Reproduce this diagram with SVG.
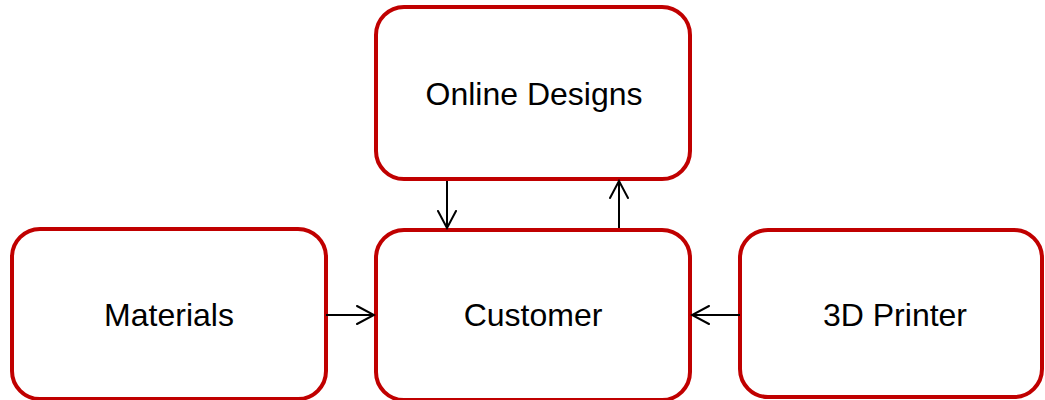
<svg xmlns="http://www.w3.org/2000/svg" width="1045" height="400" viewBox="0 0 1045 400">
  <style>
    .box { fill: #ffffff; stroke: #c00000; stroke-width: 4; }
    .label { font-family: "Liberation Sans", Arial, sans-serif; font-size: 32px; fill: #000000; text-anchor: middle; }
    .link { stroke: #000000; stroke-width: 2; fill: none; }
    .head { stroke: #000000; stroke-width: 2; fill: none; stroke-linecap: round; stroke-linejoin: miter; }
  </style>
  <defs>
    <marker id="arrow" viewBox="0 0 20 20" refX="18" refY="10" markerWidth="20" markerHeight="20" markerUnits="userSpaceOnUse" orient="auto">
      <path class="head" d="M1,1 L18,10 L1,19"/>
    </marker>
  </defs>
  <rect width="1045" height="400" fill="#ffffff"/>

  <g id="online-designs">
    <rect class="box" x="376" y="7" width="314" height="172" rx="28" ry="28"/>
    <text class="label" x="534" y="105">Online Designs</text>
  </g>

  <g id="materials">
    <rect class="box" x="12" y="229" width="314" height="170" rx="28" ry="28"/>
    <text class="label" x="169" y="326">Materials</text>
  </g>

  <g id="customer">
    <rect class="box" x="376" y="230" width="314" height="170" rx="28" ry="28"/>
    <text class="label" x="533" y="326">Customer</text>
  </g>

  <g id="printer">
    <rect class="box" x="740" y="230" width="302" height="167" rx="28" ry="28"/>
    <text class="label" x="895" y="326">3D Printer</text>
  </g>

  <g id="connectors">
    <line class="link" x1="447" y1="181" x2="447" y2="228" marker-end="url(#arrow)"/>
    <line class="link" x1="619" y1="228" x2="619" y2="181" marker-end="url(#arrow)"/>
    <line class="link" x1="326" y1="315" x2="374" y2="315" marker-end="url(#arrow)"/>
    <line class="link" x1="740" y1="315" x2="692" y2="315" marker-end="url(#arrow)"/>
  </g>
</svg>
